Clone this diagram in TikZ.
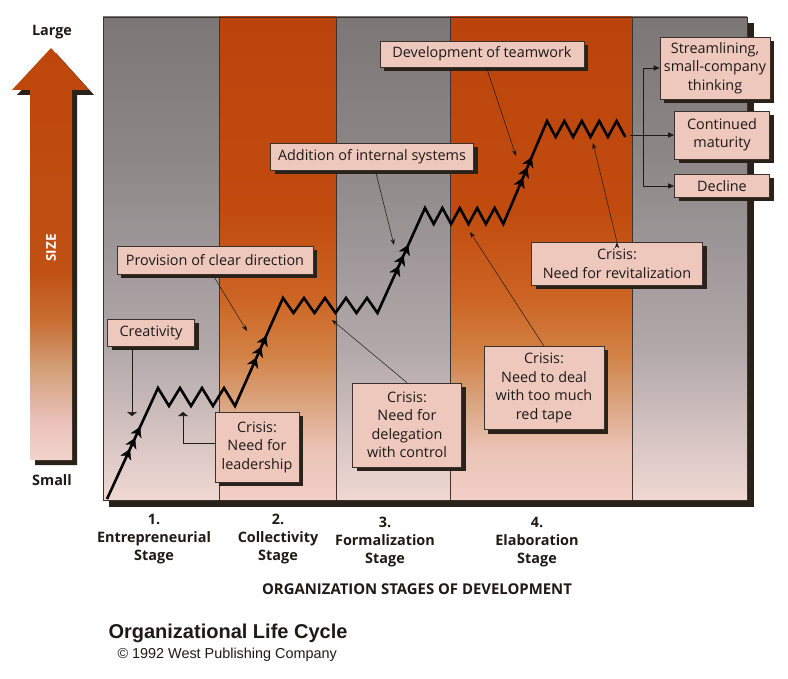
\documentclass[tikz,border=0pt]{standalone}
\usepackage{fontspec}
\setmainfont{Open Sans}
\newfontfamily\arialfont{Liberation Sans}
\usetikzlibrary{arrows.meta,shadows,decorations.markings}

\definecolor{boxfill}{RGB}{238,199,189}
\definecolor{boxline}{RGB}{60,50,45}
\definecolor{shadowc}{RGB}{40,34,24}
\definecolor{ink}{RGB}{30,26,22}

\definecolor{gr0}{RGB}{240,216,210}
\definecolor{gr1}{RGB}{216,198,196}
\definecolor{gr2}{RGB}{178,168,170}
\definecolor{gr3}{RGB}{158,151,153}
\definecolor{gr4}{RGB}{140,134,135}
\definecolor{gr5}{RGB}{124,118,118}

\definecolor{or0}{RGB}{242,206,198}
\definecolor{or1}{RGB}{236,196,184}
\definecolor{or2}{RGB}{218,165,128}
\definecolor{or3}{RGB}{210,130,70}
\definecolor{or4}{RGB}{204,100,35}
\definecolor{or5}{RGB}{193,75,15}
\definecolor{or6}{RGB}{186,68,12}

\definecolor{ar0}{RGB}{242,212,206}
\definecolor{ar1}{RGB}{234,192,184}
\definecolor{ar2}{RGB}{210,160,120}
\definecolor{ar3}{RGB}{200,110,50}
\definecolor{ar4}{RGB}{192,80,20}
\definecolor{ar5}{RGB}{190,70,10}

\pgfdeclareverticalshading{graycol}{100bp}{color(0bp)=(gr0); color(25bp)=(gr0);
  color(31bp)=(gr1); color(40.5bp)=(gr2); color(51bp)=(gr3); color(61bp)=(gr4);
  color(75bp)=(gr5); color(100bp)=(gr5)}
\pgfdeclareverticalshading{orangecol}{100bp}{color(0bp)=(or0); color(25bp)=(or0);
  color(30bp)=(or1); color(35bp)=(or2); color(40bp)=(or3); color(46bp)=(or4);
  color(55bp)=(or5); color(75bp)=(or6); color(100bp)=(or6)}
\pgfdeclareverticalshading{sizearrow}{100bp}{color(0bp)=(ar0); color(25bp)=(ar0);
  color(30bp)=(ar1); color(36bp)=(ar2); color(42bp)=(ar3); color(48bp)=(ar4);
  color(75bp)=(ar5); color(100bp)=(ar5)}

\begin{document}
\begin{tikzpicture}
  [x=1pt,y=-1pt,every node/.style={text=ink},
   box/.style={draw=boxline,fill=boxfill,line width=0.6pt,align=center,inner sep=0pt,
     font=\fontsize{14.4}{18.5}\selectfont,
     drop shadow={shadow xshift=4pt,shadow yshift=-4pt,fill=shadowc,opacity=1}}]

  \tikzstyle{growth} = [draw=black,line width=2.6pt,line join=miter]
  \tikzstyle{risemarks} = [postaction={decorate},decoration={markings,
    mark=at position 0.45 with {\arrow{Stealth[length=10pt,width=12pt,inset=3pt]}},
    mark=at position 0.55 with {\arrow{Stealth[length=10pt,width=12pt,inset=3pt]}},
    mark=at position 0.65 with {\arrow{Stealth[length=10pt,width=12pt,inset=3pt]}}}]
  \tikzstyle{pointer} = [draw=ink,line width=0.5pt,-{Stealth[length=6pt,width=4.5pt]}]
  \tikzstyle{flat} = [draw=ink,line width=0.6pt,-{Triangle[length=4pt,width=10pt]}]
  \tikzstyle{branch} = [draw=ink,line width=0.8pt,-{Triangle[length=6pt,width=5pt]}]
  \tikzstyle{stage} = [font=\bfseries\fontsize{14.4}{18}\selectfont,align=center,anchor=north]

  \fill[white] (0,0) rectangle (788,679);
  \useasboundingbox (0,0) rectangle (788,679);

  \fill[shadowc] (35,95) -- (17,95) -- (56,53) -- (94,95) -- (77,95) -- (77,465) -- (35,465) -- cycle;
  \shade[shading=sizearrow] (30,90) -- (12,90) -- (51,48) -- (89,90) -- (72,90) -- (72,460) -- (30,460) -- cycle;
  \node[rotate=90,text=white,font=\bfseries\fontsize{13.5}{15}\selectfont] (size) at (51,248) {SIZE};
  \node[font=\bfseries\fontsize{14.4}{16}\selectfont] (large) at (52,32) {Large};
  \node[font=\bfseries\fontsize{14.4}{16}\selectfont] (small) at (52,480) {Small};

  \fill[shadowc] (109,23) rectangle (754,507);
  \shade[shading=graycol] (103,17) rectangle (219,500);
  \shade[shading=orangecol] (219,17) rectangle (336,500);
  \shade[shading=graycol] (336,17) rectangle (450,500);
  \shade[shading=orangecol] (450,17) rectangle (632,500);
  \shade[shading=graycol] (632,17) rectangle (747,500);
  \foreach \x in {219,336,450,632}
    \draw[boxline,line width=0.5pt] (\x,17) -- (\x,500);
  \draw[boxline,line width=0.8pt] (103,17) rectangle (747,500);

  \coordinate (v0) at (107,499);
  \coordinate (p1) at (158,388);
  \coordinate (v1) at (235,406);
  \coordinate (p2) at (283,298);
  \coordinate (v2) at (377.5,313);
  \coordinate (p3) at (425,208);
  \coordinate (v3) at (503.3,224);
  \coordinate (p4) at (547,121);
  \coordinate (v4) at (625.3,137);

  \draw[growth] (v0) -- (p1) \foreach \i in {1,2,3}{ -- ++(11,18) -- ++(11,-18)} -- (v1)
    -- (p2) \foreach \i in {1,...,4}{ -- ++(10.5,15) -- ++(10.5,-15)} -- (v2)
    -- (p3) \foreach \i in {1,...,4}{ -- ++(8.7,16) -- ++(8.7,-16)} -- (v3)
    -- (p4) \foreach \i in {1,...,4}{ -- ++(8.7,16) -- ++(8.7,-16)} -- (v4);
  \foreach \a/\b in {v0/p1,v1/p2,v2/p3,v3/p4}
    \path[risemarks] (\a) -- (\b);

  \node[box,minimum width=87pt,minimum height=27pt] (creat) at (151,333) {Creativity};
  \node[box,minimum width=84pt,minimum height=70pt] (crisis1) at (257,447) {Crisis:\\Need for\\leadership};
  \node[box,minimum width=196pt,minimum height=28pt] (direct) at (215,260) {Provision of clear direction};
  \node[box,minimum width=109pt,minimum height=84pt] (crisis2) at (407,425) {Crisis:\\Need for\\delegation\\with control};
  \node[box,minimum width=203pt,minimum height=27pt] (intern) at (372,157) {Addition of internal systems};
  \node[box,minimum width=120pt,minimum height=83pt] (crisis3) at (544,388) {Crisis:\\Need to deal\\with too much\\red tape};
  \node[box,minimum width=204pt,minimum height=26pt] (team) at (482,54) {Development of teamwork};
  \node[box,minimum width=171pt,minimum height=43pt] (crisis4) at (617,264) {Crisis:\\Need for revitalization};
  \node[box,minimum width=110pt,minimum height=62pt] (stream) at (715,68) {Streamlining,\\small-company\\thinking};
  \node[box,minimum width=95pt,minimum height=48pt] (matur) at (722,135) {Continued\\maturity};
  \node[box,minimum width=95pt,minimum height=23pt] (decl) at (722,186) {Decline};

  \coordinate (tCreat) at (132,416);
  \coordinate (tLead) at (183,412);
  \coordinate (tDirect) at (247,331);
  \coordinate (tIntern) at (394,245);
  \coordinate (tTeam) at (516,156);
  \coordinate (tDeleg) at (332,320);
  \coordinate (tRed) at (470,232);
  \coordinate (tRevit) at (593,143);
  \coordinate (zOut) at (630,135);
  \coordinate (split) at (643,135);

  \path[pointer]
        (direct.-100) edge (tDirect)
        (intern)      edge (tIntern)
        (team)        edge (tTeam)
        (crisis2.north) edge (tDeleg)
        (crisis3.north) edge (tRed)
        (crisis4.north) edge (tRevit);
  \draw[flat] (creat.south -| tCreat) -- (tCreat);
  \draw[flat] ([yshift=4pt]crisis1.west) -| (tLead);
  \draw[branch] (zOut) -- (matur.west);
  \draw[branch] (split) |- (stream.west);
  \draw[branch] (split) |- (decl.west);

  \node[stage] (stage1) at (154,511) {1.\\Entrepreneurial\\Stage};
  \node[stage] (stage2) at (278,511) {2.\\Collectivity\\Stage};
  \node[stage] (stage3) at (385,514) {3.\\Formalization\\Stage};
  \node[stage] (stage4) at (537,514) {4.\\Elaboration\\Stage};
  \node[font=\bfseries\fontsize{14.9}{16}\selectfont] (axis) at (417,589) {ORGANIZATION STAGES OF DEVELOPMENT};
  \node[anchor=west,font=\arialfont\bfseries\fontsize{20}{24}\selectfont] (title) at (105,633) {Organizational Life Cycle};
  \node[anchor=west,font=\arialfont\fontsize{14.4}{16}\selectfont] (copy) at (114,655) {© 1992 West Publishing Company};
\end{tikzpicture}
\end{document}
